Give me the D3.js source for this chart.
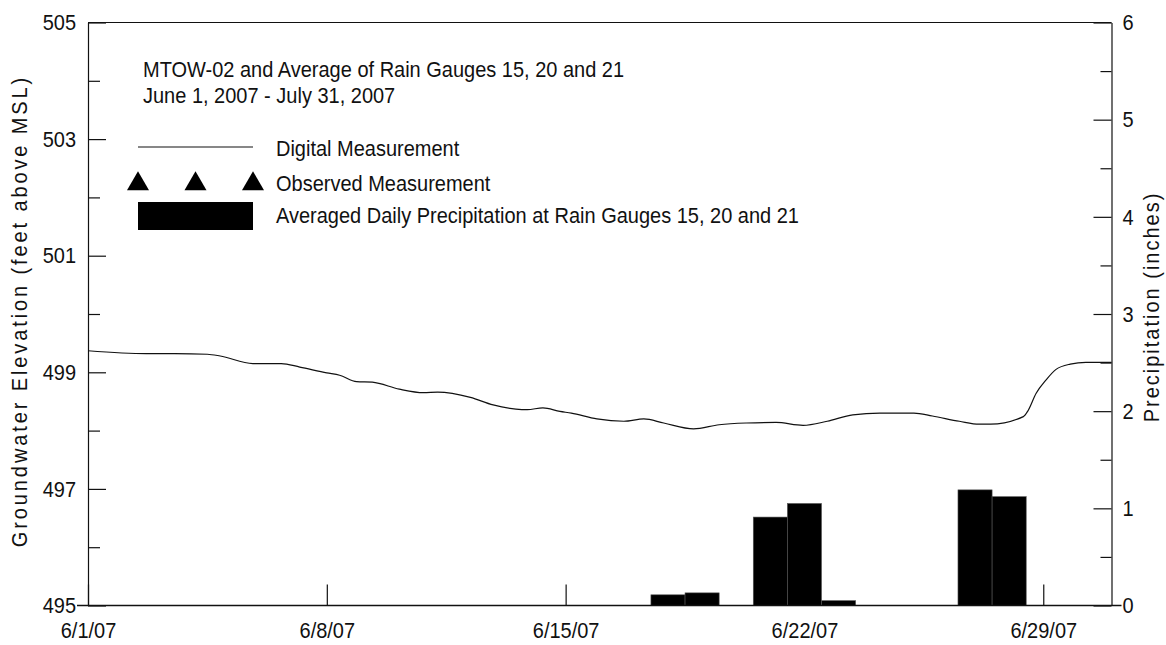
<!DOCTYPE html>
<html>
<head>
<meta charset="utf-8">
<script src="https://cdn.jsdelivr.net/npm/d3@7"></script>
<style>
  html, body { margin: 0; padding: 0; background: #fff; }
  svg { display: block; font-family: "Liberation Sans", Arial, Helvetica, sans-serif; }
  .axis text { font-size: 20px; fill: #111; }
  .axis path, .axis line { stroke: #111; stroke-width: 1.2; }
</style>
</head>
<body>
<svg id="chart" width="1166" height="645"></svg>
<script>
// Digital groundwater record for MTOW-02 (timestamp, feet above MSL)
const groundTimes = [
  "6/1/07 00:00", "6/2/07 17:00", "6/3/07 13:00", "6/4/07 12:00", "6/4/07 21:00",
  "6/5/07 20:00", "6/6/07 16:00", "6/7/07 05:00", "6/8/07 00:00", "6/8/07 09:00",
  "6/8/07 21:00", "6/9/07 08:00", "6/10/07 03:00", "6/10/07 20:00", "6/11/07 06:00",
  "6/12/07 05:00", "6/12/07 21:00", "6/13/07 13:00", "6/13/07 21:00", "6/14/07 08:00",
  "6/14/07 20:00", "6/15/07 04:00", "6/15/07 22:00", "6/16/07 17:00", "6/17/07 07:00",
  "6/17/07 21:00", "6/18/07 18:00", "6/19/07 12:00", "6/20/07 07:00", "6/21/07 04:00",
  "6/21/07 23:00", "6/22/07 16:00", "6/23/07 10:00", "6/24/07 05:00", "6/25/07 05:00",
  "6/25/07 18:00", "6/26/07 13:00", "6/27/07 03:00", "6/27/07 11:00", "6/28/07 10:00",
  "6/28/07 13:00", "6/28/07 19:00", "6/29/07 02:00", "6/29/07 09:00", "6/29/07 19:00",
  "6/30/07 06:00", "7/1/07 00:00"
];
const groundElev = [
  499.37, 499.32, 499.32, 499.31, 499.28,
  499.15, 499.15, 499.09, 498.99, 498.95,
  498.84, 498.83, 498.71, 498.65, 498.66,
  498.57, 498.44, 498.37, 498.36, 498.39,
  498.33, 498.30, 498.20, 498.16, 498.20,
  498.13, 498.03, 498.10, 498.13, 498.14,
  498.09, 498.16, 498.27, 498.30, 498.30,
  498.25, 498.16, 498.11, 498.11, 498.24,
  498.33, 498.64, 498.87, 499.05, 499.14,
  499.17, 499.17
];

// Averaged daily precipitation at rain gauges 15, 20 and 21 (inches)
const precipDates = ["6/18/07", "6/19/07", "6/21/07", "6/22/07", "6/23/07", "6/27/07", "6/28/07"];
const precipInches = [0.11, 0.13, 0.91, 1.05, 0.05, 1.19, 1.12];

// Axis ticks
const elevTicks = [495, 497, 499, 501, 503, 505];
const elevMinorTicks = [496, 498, 500, 502, 504];
const precipTicks = [0, 1, 2, 3, 4, 5, 6];
const precipMinorTicks = [0.5, 1.5, 2.5, 3.5, 4.5, 5.5];
const dateTicks = ["6/1/07", "6/8/07", "6/15/07", "6/22/07", "6/29/07"];
const dateStart = "6/1/07";
const dateEnd = "7/1/07";

const titleLines = ["MTOW-02 and Average of Rain Gauges 15, 20 and 21", "June 1, 2007 - July 31, 2007"];
const legendLabels = ["Digital Measurement", "Observed Measurement", "Averaged Daily Precipitation at Rain Gauges 15, 20 and 21"];

const parseTime = d3.timeParse("%m/%d/%y %H:%M");
const parseDay = d3.timeParse("%m/%d/%y");
const fmtDay = d3.timeFormat("%-m/%-d/%y");

// Glyphs in this figure are drawn slightly taller than standard proportions
const TALL = "scale(1,1.12)";

const svg = d3.select("#chart");
const L = 88, R = 1111.5, T = 22.5, B = 605.5;

const x = d3.scaleTime().domain([parseDay(dateStart), parseDay(dateEnd)]).range([L, R]);
const yL = d3.scaleLinear().domain([495, 505]).range([B, T]);
const yR = d3.scaleLinear().domain([0, 6]).range([B, T]);

// Bottom date axis (ticks sit beneath the bars)
svg.append("g").attr("class", "axis").attr("transform", `translate(0,${B})`)
  .call(d3.axisBottom(x).tickValues(dateTicks.map(parseDay)).tickSize(-21).tickSizeOuter(0).tickPadding(14.5).tickFormat(fmtDay))
  .call(g => g.select(".domain").remove())
  .call(g => g.selectAll(".tick line").attr("stroke", "#666"))
  .call(g => g.selectAll(".tick text").attr("transform", TALL));

// Precipitation bars, one day wide, centred on each date
const bars = precipDates.map((d, i) => ({ day: parseDay(d), v: precipInches[i] }));
svg.append("g").selectAll("rect").data(bars).join("rect")
  .attr("x", d => x(d3.timeHour.offset(d.day, -12)))
  .attr("width", d => x(d3.timeHour.offset(d.day, 12)) - x(d3.timeHour.offset(d.day, -12)))
  .attr("y", d => yR(d.v))
  .attr("height", d => yR(0) - yR(d.v))
  .attr("fill", "#000")
  .attr("stroke", "#555")
  .attr("stroke-width", 0.6);

// Groundwater line
const ground = groundTimes.map((t, i) => ({ t: parseTime(t), v: groundElev[i] }));
svg.append("path")
  .datum(ground)
  .attr("fill", "none")
  .attr("stroke", "#111")
  .attr("stroke-width", 1.2)
  .attr("d", d3.line().x(d => x(d.t)).y(d => yL(d.v)).curve(d3.curveMonotoneX));

// Left axis: labels outside, ticks pointing into the plot
svg.append("g").attr("class", "axis").attr("transform", `translate(${L},0)`)
  .call(d3.axisLeft(yL).tickValues(elevTicks).tickSize(-18).tickSizeOuter(0).tickPadding(12).tickFormat(d3.format("d")))
  .call(g => g.selectAll(".tick text").attr("transform", TALL));
svg.append("g").attr("class", "axis").attr("transform", `translate(${L},0)`)
  .call(d3.axisLeft(yL).tickValues(elevMinorTicks).tickSize(-12).tickSizeOuter(0).tickFormat(""))
  .call(g => g.select(".domain").remove());

// Right axis
svg.append("g").attr("class", "axis").attr("transform", `translate(${R},0)`)
  .call(d3.axisRight(yR).tickValues(precipTicks).tickSize(-18).tickSizeOuter(0).tickPadding(11).tickFormat(d3.format("d")))
  .call(g => g.selectAll(".tick text").attr("transform", TALL));
svg.append("g").attr("class", "axis").attr("transform", `translate(${R},0)`)
  .call(d3.axisRight(yR).tickValues(precipMinorTicks).tickSize(-11).tickSizeOuter(0).tickFormat(""))
  .call(g => g.select(".domain").remove());

// Frame: top edge and extended baseline
svg.append("line").attr("x1", L).attr("x2", R).attr("y1", T).attr("y2", T)
  .attr("stroke", "#111").attr("stroke-width", 1.2);
svg.append("line").attr("x1", L - 11).attr("x2", R + 10).attr("y1", B).attr("y2", B)
  .attr("stroke", "#111").attr("stroke-width", 1.4);

// Axis titles
svg.append("text")
  .attr("transform", `translate(27,${(T + B) / 2 - 3}) rotate(-90) ${TALL}`)
  .attr("text-anchor", "middle")
  .attr("font-size", 20).attr("letter-spacing", "2.9px").attr("fill", "#111")
  .text("Groundwater Elevation (feet above MSL)");
svg.append("text")
  .attr("transform", `translate(1159,${(T + B) / 2 - 7}) rotate(-90) ${TALL}`)
  .attr("text-anchor", "middle")
  .attr("font-size", 20).attr("letter-spacing", "2px").attr("fill", "#111")
  .text("Precipitation (inches)");

// Chart title
svg.append("g").selectAll("text").data(titleLines).join("text")
  .attr("transform", (d, i) => `translate(143,${77 + i * 26}) ${TALL}`)
  .attr("font-size", 20).attr("fill", "#111")
  .text(d => d);

// Legend
const lg = svg.append("g");
lg.append("line").attr("x1", 138).attr("x2", 253).attr("y1", 147).attr("y2", 147)
  .attr("stroke", "#111").attr("stroke-width", 1.1);
lg.selectAll("path.tri").data([138, 195.5, 253]).join("path")
  .attr("class", "tri")
  .attr("transform", d => `translate(${d},184)`)
  .attr("d", d3.symbol().type(d3.symbolTriangle).size(210))
  .attr("fill", "#000");
lg.append("rect").attr("x", 138).attr("y", 202).attr("width", 115).attr("height", 28).attr("fill", "#000");
lg.selectAll("text").data(legendLabels).join("text")
  .attr("transform", (d, i) => `translate(276,${[156, 191, 223][i]}) ${TALL}`)
  .attr("font-size", 20).attr("fill", "#111")
  .text(d => d);
</script>
</body>
</html>
